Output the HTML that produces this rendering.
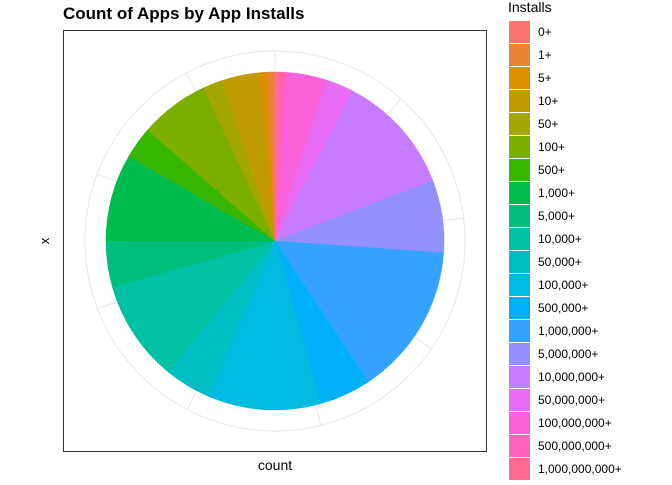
<!DOCTYPE html>
<html><head><meta charset="utf-8"><style>
body{margin:0;background:#fff;font-family:"Liberation Sans",sans-serif}
</style></head><body>
<svg id="c" width="672" height="480" xmlns="http://www.w3.org/2000/svg">
<text x="63" y="19" font-size="17" font-weight="bold" fill="#000">Count of Apps by App Installs</text>
<rect x="63.5" y="30.5" width="423" height="421" fill="#fff" stroke="#333"/>
<g id="grid"></g>
<g id="slices"></g>
<text x="49" y="241" font-size="13" text-anchor="middle" transform="rotate(-90 49 241)">x</text>
<text x="275" y="470" font-size="14" text-anchor="middle">count</text>
<text x="508" y="12" font-size="14">Installs</text>
<g id="legend"></g>
</svg>
<script>
const categories=["0+","1+","5+","10+","50+","100+","500+","1,000+","5,000+","10,000+","50,000+","100,000+","500,000+","1,000,000+","5,000,000+","10,000,000+","50,000,000+","100,000,000+","500,000,000+","1,000,000,000+"];
const counts=[15,67,82,386,205,719,330,907,477,1054,479,1169,539,1579,752,1252,289,409,72,58];
const colors=["#F8766D","#EA8331","#D89000","#C09B00","#A3A500","#7CAE00","#39B600","#00BB4E","#00BF7D","#00C1A3","#00BFC4","#00BAE0","#00B0F6","#35A2FF","#9590FF","#C77CFF","#E76BF3","#FA62DB","#FF62BC","#FF6C91"];
const gridBreaks=[0,1250,2500,3750,5000,6250,7500,8750,10000];
const NS="http://www.w3.org/2000/svg";
const cx=275,cy=241,R=169,RG=190;
const total=counts.reduce((a,b)=>a+b,0);
function ang(v){return v/total*2*Math.PI;}
function pt(a,r){return [cx+r*Math.sin(a),cy-r*Math.cos(a)];}
const grid=document.getElementById('grid');
const circ=document.createElementNS(NS,'circle');
circ.setAttribute('cx',cx);circ.setAttribute('cy',cy);circ.setAttribute('r',RG);
circ.setAttribute('fill','none');circ.setAttribute('stroke','#ebebeb');circ.setAttribute('stroke-width','1.2');


grid.appendChild(circ);
gridBreaks.forEach(b=>{const p=pt(ang(b),RG);const l=document.createElementNS(NS,'line');
l.setAttribute('x1',cx);l.setAttribute('y1',cy);l.setAttribute('x2',p[0]);l.setAttribute('y2',p[1]);
l.setAttribute('stroke','#ebebeb');l.setAttribute('stroke-width','1.2');


grid.appendChild(l);});
const sl=document.getElementById('slices');
let cum=0;
for(let i=categories.length-1;i>=0;i--){
 const a0=ang(cum),a1=ang(cum+counts[i]);cum+=counts[i];
 const p0=pt(a0,R),p1=pt(a1,R);
 const large=(a1-a0)>Math.PI?1:0;
 const pg=document.createElementNS(NS,'path');
 pg.setAttribute('d',`M${cx},${cy} L${p0[0]},${p0[1]} A${R},${R} 0 ${large} 1 ${p1[0]},${p1[1]} Z`);
 pg.setAttribute('fill',colors[i]);pg.setAttribute('stroke',colors[i]);pg.setAttribute('stroke-width','0.5');
 
 
 sl.appendChild(pg);
}
const lg=document.getElementById('legend');
categories.forEach((c,i)=>{const y=21+23*i;
 const r=document.createElementNS(NS,'rect');
 r.setAttribute('x',509);r.setAttribute('y',y);r.setAttribute('width',21);r.setAttribute('height',22);r.setAttribute('fill',colors[i]);
 
 
 lg.appendChild(r);
 const t=document.createElementNS(NS,'text');
 t.setAttribute('x',538);t.setAttribute('y',y+15);t.setAttribute('font-size','12');t.textContent=c;
 
 
 lg.appendChild(t);
});
</script>
</body></html>
